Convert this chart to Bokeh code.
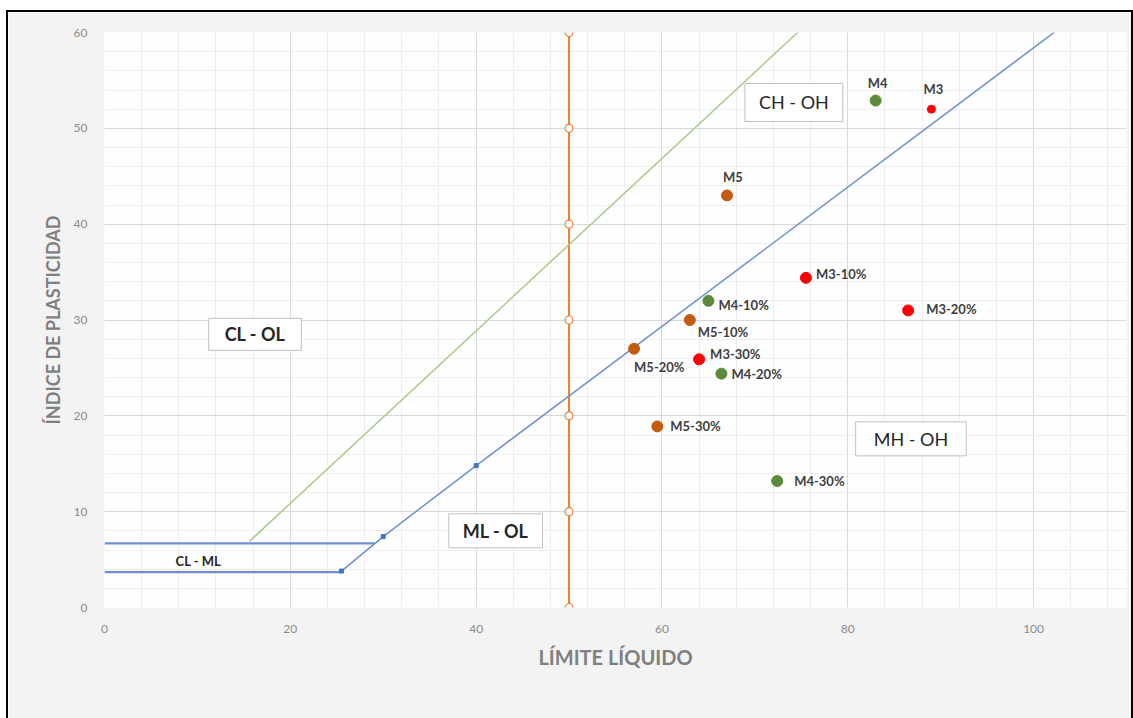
from bokeh.plotting import figure
from bokeh.models import Range1d, FixedTicker, ColumnDataSource, LabelSet, Label
from bokeh.core.properties import value
from bokeh.embed import file_html
from bokeh.resources import INLINE

# ---------------- data ----------------
m3_names = ["M3", "M3-10%", "M3-20%", "M3-30%"]
m3_ll = [89.0, 75.5, 86.5, 64.0]
m3_ip = [52.0, 34.4, 31.0, 25.9]

m4_names = ["M4", "M4-10%", "M4-20%", "M4-30%"]
m4_ll = [83.0, 65.0, 66.4, 72.4]
m4_ip = [52.9, 32.0, 24.4, 13.2]

m5_names = ["M5", "M5-10%", "M5-20%", "M5-30%"]
m5_ll = [67.0, 63.0, 57.0, 59.5]
m5_ip = [43.0, 30.0, 27.0, 18.9]

# A-line (blue) and its lower horizontal limits
a_line_ll = [25.5, 30.0, 40.0, 102.2]
a_line_ip = [3.8, 7.4, 14.8, 60.0]
low_line_ll = [0.0, 25.5]
low_line_ip = [3.7, 3.7]
high_line_ll = [0.0, 29.1]
high_line_ip = [6.7, 6.7]

# U-line (green)
u_line_ll = [15.6, 74.6]
u_line_ip = [6.9, 60.0]

# LL = 50 vertical (orange)
ll50_ll = [50, 50, 50, 50, 50, 50, 50]
ll50_ip = [0, 10, 20, 30, 40, 50, 60]

# zone labels
zone_texts = ["CH - OH", "MH - OH", "CL - OL", "ML - OL"]
zone_ll = [74.2, 86.8, 16.2, 42.1]
zone_ip = [52.7, 17.6, 28.5, 8.0]
clml_text = "CL - ML"
clml_ll = 10.1
clml_ip = 4.9

x_ticks = [0, 20, 40, 60, 80, 100]
y_ticks = [0, 10, 20, 30, 40, 50, 60]

# ---------------- label placement (styling) ----------------
label_dx = {"M3": 2, "M3-10%": 10, "M3-20%": 18, "M3-30%": 11,
            "M4": 2, "M4-10%": 10, "M4-20%": 10, "M4-30%": 17,
            "M5": 6, "M5-10%": 8, "M5-20%": 0, "M5-30%": 13}
label_dy = {"M3": 20, "M3-10%": 4, "M3-20%": 1, "M3-30%": 5,
            "M4": 18, "M4-10%": -4, "M4-20%": 0, "M4-30%": 0,
            "M5": 18, "M5-10%": -12, "M5-20%": -18, "M5-30%": 0}
label_align = {"M3": "center", "M4": "center", "M5": "center"}
zone_pad = {"CH - OH": (14, 8), "MH - OH": (18, 6), "CL - OL": (16, 5), "ML - OL": (14, 6)}

FONT = "Lato"

p = figure(width=1127, height=708, output_backend="svg", toolbar_location=None,
           title=None, x_range=Range1d(0, 110), y_range=Range1d(0, 60),
           min_border_left=96, min_border_top=20, min_border_right=9,
           min_border_bottom=113)
p.styles = {"margin-left": "6px", "margin-top": "10px",
            "border-left": "2px solid #000000",
            "border-top": "2px solid #000000",
            "border-right": "2px solid #000000"}
p.border_fill_color = "#f3f3f3"
p.background_fill_color = "#fefefe"
p.outline_line_color = None

xt = FixedTicker(ticks=x_ticks, minor_ticks=list(range(0, 111, 4)))
yt = FixedTicker(ticks=y_ticks, minor_ticks=list(range(0, 61, 2)))
p.xaxis.ticker = xt
p.yaxis.ticker = yt
p.xgrid.ticker = xt
p.ygrid.ticker = yt
for g in (p.xgrid, p.ygrid):
    g.grid_line_color = "#d9d9d9"
    g.grid_line_width = 1
    g.minor_grid_line_color = "#eeeeee"
    g.minor_grid_line_width = 1

for ax in (p.xaxis, p.yaxis):
    ax.axis_line_color = None
    ax.major_tick_line_color = None
    ax.minor_tick_line_color = None
    ax.major_label_text_font = FONT
    ax.major_label_text_font_size = "12px"
    ax.major_label_text_color = "#8c8c8c"
    ax.major_label_standoff = 11
    ax.axis_label_text_font = FONT
    ax.axis_label_text_font_style = "bold"
    ax.axis_label_text_color = "#7f7f7f"

p.xaxis.axis_label = "LÍMITE LÍQUIDO"
p.xaxis.axis_label_text_font_size = "20px"
p.xaxis.axis_label_standoff = 9
p.yaxis.axis_label = "ÍNDICE DE PLASTICIDAD"
p.yaxis.axis_label_text_font_size = "18px"
p.yaxis.axis_label_standoff = 7

# reference lines
p.line(ll50_ll, ll50_ip, line_color="#ed7d31", line_width=2)
p.scatter(ll50_ll, ll50_ip, marker="circle", size=8, line_color="#ed7d31",
          fill_color="#ffffff", line_width=1.2)

p.line(u_line_ll, u_line_ip, line_color="#a9c98a", line_width=1.5)

p.line(low_line_ll, low_line_ip, line_color="#6f8fd0", line_width=2.2)
p.line(high_line_ll, high_line_ip, line_color="#6f8fd0", line_width=2.2)
p.line(a_line_ll, a_line_ip, line_color="#6f8fd0", line_width=1.5)
p.scatter(a_line_ll[:3], a_line_ip[:3], marker="square", size=4,
          line_color="#4472c4", fill_color="#4472c4")

# data points
series = [(m3_names, m3_ll, m3_ip, "#ff0000"),
          (m4_names, m4_ll, m4_ip, "#5b8b3a"),
          (m5_names, m5_ll, m5_ip, "#c55a11")]
for names, ll, ip, col in series:
    sizes = [8 if n == "M3" else 11 for n in names]
    src = ColumnDataSource(dict(x=ll, y=ip, name=names, size=sizes,
                                dx=[label_dx[n] for n in names],
                                dy=[label_dy[n] for n in names],
                                align=[label_align.get(n, "left") for n in names]))
    p.scatter("x", "y", source=src, marker="circle", size="size",
              fill_color=col, line_color=col)
    p.add_layout(LabelSet(x="x", y="y", text="name", source=src,
                          x_offset="dx", y_offset="dy", text_align="align",
                          text_baseline="middle", text_font=value(FONT),
                          text_font_size="13px", text_font_style="bold",
                          text_color="#404040"))

# zone labels
for t, zx, zy in zip(zone_texts, zone_ll, zone_ip):
    bold = t in ("CL - OL", "ML - OL")
    ph, pv = zone_pad[t]
    p.add_layout(Label(x=zx, y=zy, text=t, text_align="center",
                       text_baseline="middle", text_font=FONT,
                       text_font_size="18px",
                       text_font_style="bold" if bold else "normal",
                       text_color="#262626",
                       background_fill_color="#ffffff",
                       border_line_color="#bfbfbf", border_line_width=1,
                       padding=dict(left=ph, right=ph, top=pv, bottom=pv)))

p.add_layout(Label(x=clml_ll, y=clml_ip, text=clml_text, text_align="center",
                   text_baseline="middle", text_font=FONT,
                   text_font_size="13px", text_font_style="bold",
                   text_color="#262626"))

open("out.html", "w").write(file_html(p, INLINE))
